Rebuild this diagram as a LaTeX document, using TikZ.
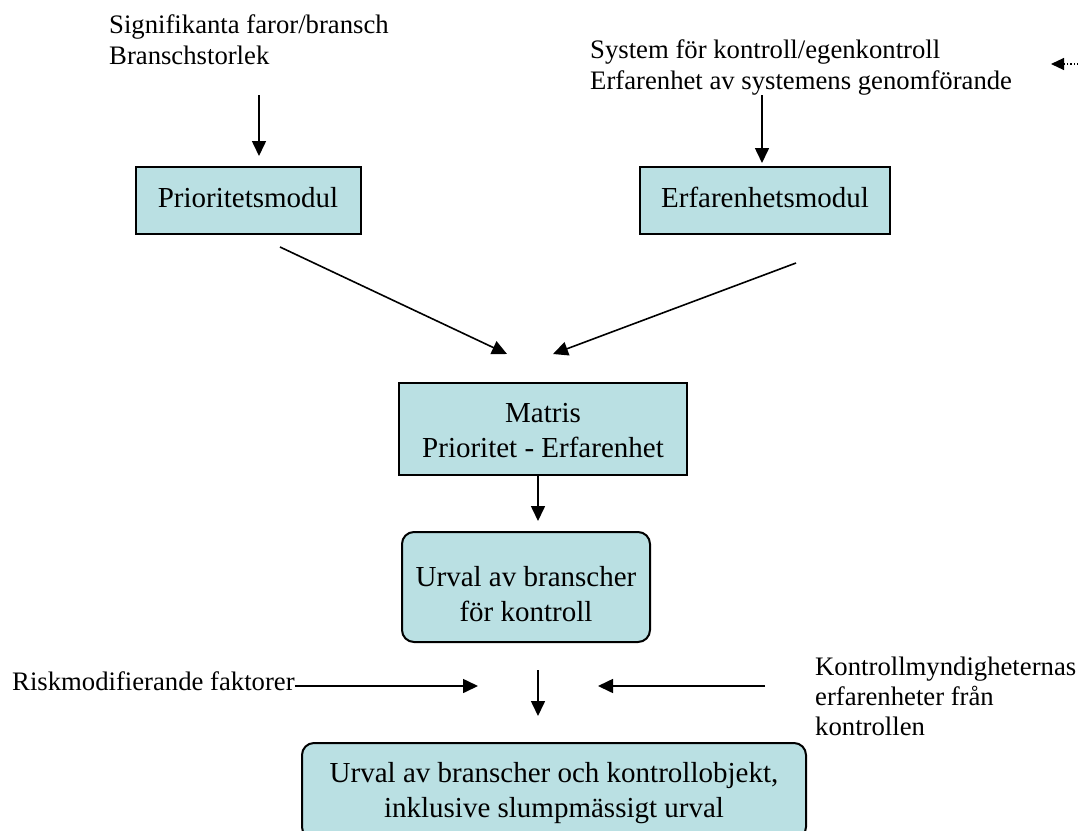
\documentclass[tikz,border=0pt]{standalone}
\usepackage{fontspec}
\setmainfont{Liberation Serif}
\usetikzlibrary{arrows.meta}
\definecolor{boxfill}{RGB}{186,224,227}
\tikzset{
  box/.style={draw=black, line width=2pt, fill=boxfill, inner sep=0pt},
  rbox/.style={box, rounded corners=12pt},
  btext/.style={align=center, inner sep=0pt, font=\fontsize{29}{35}\selectfont},
  note/.style={align=left, inner sep=0pt, font=\fontsize{26.7}{31}\selectfont},
  arr/.style={line width=1.6pt, -{Triangle[length=15pt,width=14pt]}},
  darr/.style={line width=1.2pt, dotted, -{Triangle[length=13pt,width=12pt]}}
}
\begin{document}
\begin{tikzpicture}[x=1pt,y=-1pt]
\useasboundingbox (0,0) rectangle (1078,830);
% annotations (anchor = baseline of last line)
\node[note, anchor=base west] (sig) at (109,64) {Signifikanta faror/bransch\\Branschstorlek};
\node[note, anchor=base west] (sys) at (590,89) {System för kontroll/egenkontroll\\Erfarenhet av systemens genomförande};
\node[note, anchor=base west] (risk) at (12,690) {Riskmodifierande faktorer};
\node[note, anchor=base west, font=\fontsize{26.7}{30}\selectfont] (kon) at (815,735) {Kontrollmyndigheternas\\erfarenheter från\\kontrollen};
% boxes
\node[box, minimum width=225pt, minimum height=67pt] (prio) at (248,200) {};
\node[btext, anchor=base] (priot) at (prio.center |- 0,207) {Prioritetsmodul};
\node[box, minimum width=250pt, minimum height=67pt] (erf) at (765,200) {};
\node[btext, anchor=base] (erft) at (erf.center |- 0,207) {Erfarenhetsmodul};
\node[box, minimum width=288pt, minimum height=92pt] (mat) at (543,429) {};
\node[btext, anchor=base] (matt) at (mat.center |- 0,457) {Matris\\Prioritet - Erfarenhet};
\node[rbox, minimum width=248pt, minimum height=110pt] (urv) at (526,587) {};
\node[btext, anchor=base] (urvt) at (urv.center |- 0,621) {Urval av branscher\\för kontroll};
\node[rbox, minimum width=504pt, minimum height=96pt] (fin) at (554,791) {};
\node[btext, anchor=base] (fint) at (fin.center |- 0,817) {Urval av branscher och kontrollobjekt,\\inklusive slumpmässigt urval};
% connector end points
\coordinate (a1s) at (259,95);  \coordinate (a1e) at (259,156);
\coordinate (a2s) at (762,95);  \coordinate (a2e) at (762,163);
\coordinate (d1s) at (280,247); \coordinate (d1e) at (507,354);
\coordinate (d2s) at (796,263); \coordinate (d2e) at (553,354);
\coordinate (m1e) at (538,521);
\coordinate (u1s) at (538,670); \coordinate (u1e) at (538,716);
\coordinate (r1e) at (478,686);
\coordinate (k1s) at (765,686); \coordinate (k1e) at (598,686);
\coordinate (xs) at (1078,64);  \coordinate (xe) at (1051,64);
% connectors
\draw[arr] (a1s) -- (a1e);
\draw[arr] (a2s) -- (a2e);
\draw[arr] (d1s) -- (d1e);
\draw[arr] (d2s) -- (d2e);
\draw[arr] (m1e |- mat.south) -- (m1e);
\draw[arr] (u1s) -- (u1e);
\draw[arr] (risk.east |- r1e) -- (r1e);
\draw[arr] (k1s) -- (k1e);
\draw[darr] (xs) -- (xe);
\end{tikzpicture}
\end{document}
